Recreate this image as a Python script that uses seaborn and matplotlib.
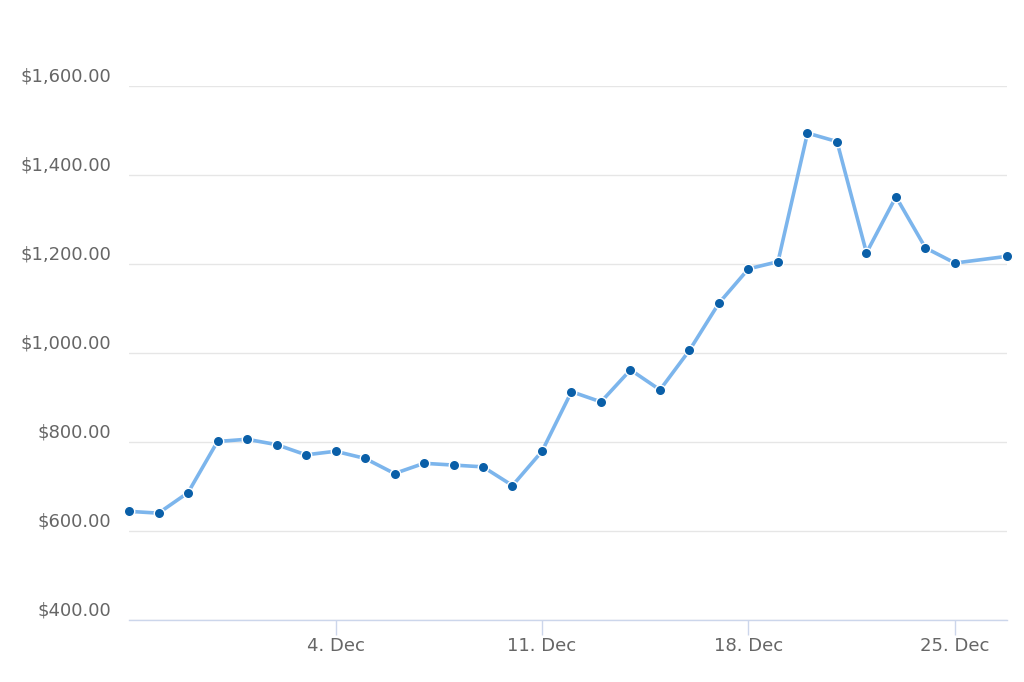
import matplotlib
matplotlib.use("Agg")
import matplotlib.pyplot as plt
import matplotlib.dates as mdates
import matplotlib.transforms as mtransforms
from matplotlib.ticker import FuncFormatter, FixedLocator
import seaborn as sns
import pandas as pd

dates = list(pd.date_range("2017-11-27", "2017-12-25", freq="D")) + [pd.Timestamp("2017-12-26 18:00")]
prices = [644, 640, 686, 801, 806, 794, 771, 779, 763, 729,
          752, 748, 744, 702, 779, 913, 890, 962, 917, 1006,
          1112, 1189, 1205, 1494, 1475, 1225, 1351, 1236, 1202, 1217]
tick_dates = ["2017-12-04", "2017-12-11", "2017-12-18", "2017-12-25"]
y_ticks = [400, 600, 800, 1000, 1200, 1400, 1600]

df = pd.DataFrame({"date": dates, "price": prices})

sns.set_theme(style="white")
plt.rcParams["font.family"] = ["DejaVu Sans"]

fig = plt.figure(figsize=(10.24, 6.82), dpi=100)
ax = fig.add_axes([0.126, 0.091, 0.857, 0.783])

sns.lineplot(data=df, x="date", y="price", ax=ax, color="#7cb5ec", linewidth=2.6,
             marker="o", markersize=7.5, markerfacecolor="#0a5fa8",
             markeredgecolor="white", markeredgewidth=1.0, zorder=3, clip_on=False)

ax.set_xlim(df["date"].min(), df["date"].max())
ax.set_ylim(400, 1600)
ax.yaxis.set_major_locator(FixedLocator(y_ticks))
ax.yaxis.set_major_formatter(FuncFormatter(lambda v, p: f"${v:,.2f}"))
ax.xaxis.set_major_locator(FixedLocator([mdates.date2num(pd.Timestamp(d)) for d in tick_dates]))
ax.xaxis.set_major_formatter(FuncFormatter(lambda v, p: f"{mdates.num2date(v).day}. Dec"))

ax.grid(axis="y", color="#e6e6e6", linewidth=1)
ax.grid(axis="x", visible=False)
for s in ["top", "right", "left"]:
    ax.spines[s].set_visible(False)
ax.spines["bottom"].set_color("#ccd6eb")
ax.spines["bottom"].set_linewidth(1)

ax.tick_params(axis="y", left=False, length=0, pad=13, labelsize=13, labelcolor="#666666")
ax.tick_params(axis="x", bottom=True, length=11, width=1, color="#ccd6eb", pad=1,
               labelsize=13, labelcolor="#666666", direction="out")
ax.set_xlabel("")
ax.set_ylabel("")

offset = mtransforms.ScaledTranslation(0, 11 / 100, fig.dpi_scale_trans)
for lbl in ax.get_yticklabels():
    lbl.set_transform(lbl.get_transform() + offset)

fig.savefig("out.png", dpi=100)
